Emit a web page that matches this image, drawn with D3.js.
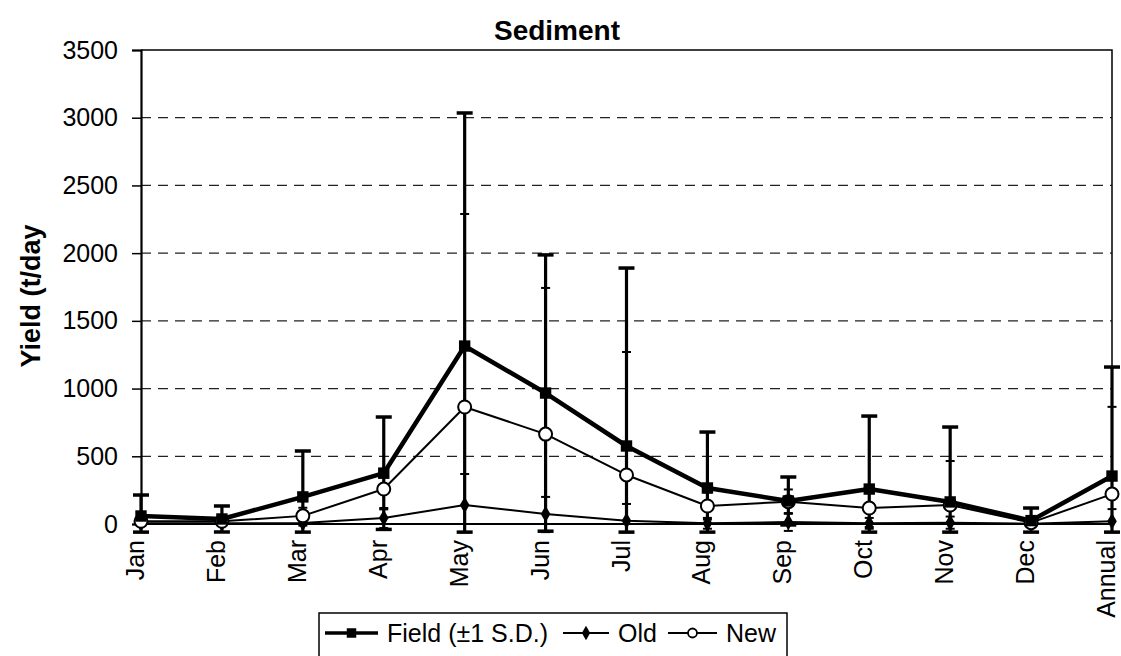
<!DOCTYPE html>
<html>
<head>
<meta charset="utf-8">
<script src="https://cdn.jsdelivr.net/npm/d3@7"></script>
<style>
  html, body { margin: 0; padding: 0; background: #fff; }
  svg { display: block; font-family: "Liberation Sans", Arial, sans-serif; }
</style>
</head>
<body>
<svg id="chart" width="1121" height="656"></svg>
<script>
// Monthly and annual sediment yield (t/day)
const categories = ["Jan", "Feb", "Mar", "Apr", "May", "Jun", "Jul", "Aug", "Sep", "Oct", "Nov", "Dec", "Annual"];
const yTicks = [0, 500, 1000, 1500, 2000, 2500, 3000, 3500];

const fieldMean = [59, 37, 200, 375, 1314, 967, 576, 266, 170, 258, 163, 25, 354];
const fieldSD   = [155, 96, 339, 415, 1721, 1020, 1314, 413, 177, 539, 553, 93, 805];
const oldMean   = [5, 5, 8, 44, 140, 74, 24, 5, 15, 5, 10, 2, 20];
const oldSD     = [20, 15, 20, 74, 229, 126, 124, 40, 66, 40, 45, 15, 90];
const newMean   = [20, 20, 60, 258, 864, 664, 362, 133, 165, 118, 140, 10, 221];
const newSD     = [30, 25, 60, 150, 1425, 1079, 908, 100, 90, 140, 325, 30, 644];

const legendLabels = ["Field (\u00b11 S.D.)", "Old", "New"];

const svg = d3.select("#chart");
const plotLeft = 141, plotRight = 1112, plotTop = 50, plotBottom = 524;
const yFloor = -60; // error bars are cut off just below the zero line

const x = d3.scalePoint().domain(categories).range([plotLeft, plotRight]).padding(0);
const y = d3.scaleLinear().domain([0, 3500]).range([plotBottom, plotTop]);

// Title
svg.append("text")
  .attr("x", 557).attr("y", 40)
  .attr("text-anchor", "middle")
  .attr("font-size", 28).attr("font-weight", "bold")
  .text("Sediment");

// Y axis title
svg.append("text")
  .attr("transform", `translate(40,${(plotTop + plotBottom) / 2 + 9}) rotate(-90)`)
  .attr("text-anchor", "middle")
  .attr("font-size", 27).attr("font-weight", "bold")
  .text("Yield (t/day");

// Dashed gridlines
svg.append("g")
  .selectAll("line")
  .data(yTicks.filter(v => v > 0 && v < 3500))
  .join("line")
  .attr("x1", plotLeft).attr("x2", plotRight)
  .attr("y1", d => y(d)).attr("y2", d => y(d))
  .attr("stroke", "#222").attr("stroke-width", 1.2)
  .attr("stroke-dasharray", "10,7");

// Plot border: top and right
svg.append("path")
  .attr("d", `M${plotLeft},${y(3500)}H${plotRight}V${y(0)}`)
  .attr("fill", "none").attr("stroke", "#000").attr("stroke-width", 1.5);

// Y axis
const yAxis = svg.append("g")
  .attr("transform", `translate(${plotLeft},0)`)
  .call(d3.axisLeft(y).tickValues(yTicks).tickSize(9).tickPadding(14).tickFormat(d3.format("d")));
yAxis.select(".domain").attr("stroke-width", 2.2);
yAxis.selectAll(".tick line").attr("stroke-width", 1.5);
yAxis.selectAll("text").attr("font-size", 25).attr("fill", "#000")
  .attr("font-family", "Liberation Sans, Arial, sans-serif");

// X axis (zero line) and rotated category labels
svg.append("line")
  .attr("x1", plotLeft).attr("x2", plotRight)
  .attr("y1", y(0)).attr("y2", y(0))
  .attr("stroke", "#000").attr("stroke-width", 2.2);

svg.append("g")
  .selectAll("text")
  .data(categories)
  .join("text")
  .attr("transform", d => `translate(${x(d) + 3},540) rotate(-90)`)
  .attr("text-anchor", "end")
  .attr("font-size", 25)
  .text(d => d);

// Error bars
function errorBars(mean, sd, width, capW, capStroke) {
  const rows = categories.map((c, i) => ({
    c,
    hi: mean[i] + sd[i],
    lo: Math.max(mean[i] - sd[i], yFloor)
  }));
  const g = svg.append("g").attr("stroke", "#000");
  g.selectAll("line.v").data(rows).join("line").attr("class", "v")
    .attr("x1", d => x(d.c)).attr("x2", d => x(d.c))
    .attr("y1", d => y(d.hi)).attr("y2", d => y(d.lo))
    .attr("stroke-width", width);
  g.selectAll("line.hc").data(rows).join("line").attr("class", "hc")
    .attr("x1", d => x(d.c) - capW / 2).attr("x2", d => x(d.c) + capW / 2)
    .attr("y1", d => y(d.hi)).attr("y2", d => y(d.hi))
    .attr("stroke-width", capStroke);
  g.selectAll("line.lc").data(rows).join("line").attr("class", "lc")
    .attr("x1", d => x(d.c) - capW / 2).attr("x2", d => x(d.c) + capW / 2)
    .attr("y1", d => y(d.lo)).attr("y2", d => y(d.lo))
    .attr("stroke-width", capStroke);
}
errorBars(oldMean, oldSD, 1.5, 9, 2);
errorBars(newMean, newSD, 1.5, 9, 2);
errorBars(fieldMean, fieldSD, 3.2, 16, 3.5);

// Series lines
const line = d3.line().x((d, i) => x(categories[i])).y(d => y(d));
function drawLine(values, width) {
  svg.append("path").datum(values)
    .attr("d", line)
    .attr("fill", "none").attr("stroke", "#000")
    .attr("stroke-width", width).attr("stroke-linejoin", "round");
}
drawLine(oldMean, 2);
drawLine(newMean, 2);
drawLine(fieldMean, 4.5);

// Markers
const diamond = d3.symbol().type(d3.symbolDiamond).size(80);
const square = d3.symbol().type(d3.symbolSquare).size(130);
svg.append("g").selectAll("path").data(oldMean).join("path")
  .attr("transform", (d, i) => `translate(${x(categories[i])},${y(d)})`)
  .attr("d", diamond).attr("fill", "#000");
svg.append("g").selectAll("circle").data(newMean).join("circle")
  .attr("cx", (d, i) => x(categories[i])).attr("cy", d => y(d))
  .attr("r", 6.5).attr("fill", "#fff").attr("stroke", "#000").attr("stroke-width", 2);
svg.append("g").selectAll("path").data(fieldMean).join("path")
  .attr("transform", (d, i) => `translate(${x(categories[i])},${y(d)})`)
  .attr("d", square).attr("fill", "#000");

// Legend
const lg = svg.append("g");
lg.append("rect")
  .attr("x", 319).attr("y", 613).attr("width", 468).attr("height", 60)
  .attr("fill", "#fff").attr("stroke", "#000").attr("stroke-width", 1.5);
const entries = [
  { label: legendLabels[0], x1: 325, x2: 378, tx: 387, w: 3.5, mark: "square" },
  { label: legendLabels[1], x1: 563, x2: 609, tx: 618, w: 2, mark: "diamond" },
  { label: legendLabels[2], x1: 668, x2: 717, tx: 726, w: 2, mark: "circle" }
];
const ly = 633;
entries.forEach(e => {
  lg.append("line").attr("x1", e.x1).attr("x2", e.x2).attr("y1", ly).attr("y2", ly)
    .attr("stroke", "#000").attr("stroke-width", e.w);
  const cx = (e.x1 + e.x2) / 2;
  if (e.mark === "square") {
    lg.append("path").attr("transform", `translate(${cx},${ly})`)
      .attr("d", d3.symbol().type(d3.symbolSquare).size(90)).attr("fill", "#000");
  } else if (e.mark === "diamond") {
    lg.append("path").attr("transform", `translate(${cx},${ly})`)
      .attr("d", d3.symbol().type(d3.symbolDiamond).size(60)).attr("fill", "#000");
  } else {
    lg.append("circle").attr("cx", cx).attr("cy", ly).attr("r", 4.5)
      .attr("fill", "#fff").attr("stroke", "#000").attr("stroke-width", 1.8);
  }
  lg.append("text").attr("x", e.tx).attr("y", ly + 9)
    .attr("font-size", 25).text(e.label);
});
</script>
</body>
</html>
